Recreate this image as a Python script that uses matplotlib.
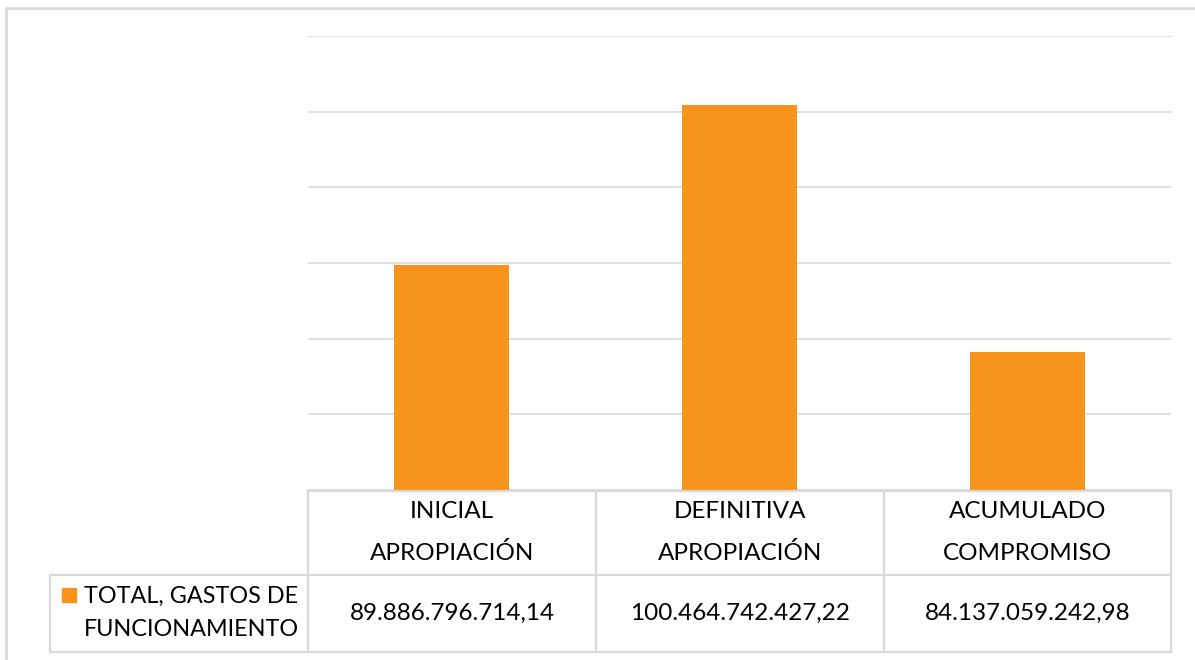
import matplotlib
matplotlib.use("Agg")
import matplotlib.pyplot as plt
from matplotlib.patches import Rectangle

categories = ["INICIAL\nAPROPIACIÓN", "DEFINITIVA\nAPROPIACIÓN", "ACUMULADO\nCOMPROMISO"]
values = [89886796714.14, 100464742427.22, 84137059242.98]
value_labels = ["89.886.796.714,14", "100.464.742.427,22", "84.137.059.242,98"]
series_name = "TOTAL, GASTOS DE\nFUNCIONAMIENTO"

W, H = 1195, 660
BAR = "#F7941D"
GRID = "#D9D9D9"
FONT = "Lato"
FS = 17.5
FS_LEG = 16.8

fig = plt.figure(figsize=(W / 100, H / 100), dpi=100)

# plot area in pixel coordinates
x0, x1, ytop, ybot = 308, 1171, 36, 490
ax = fig.add_axes([x0 / W, 1 - ybot / H, (x1 - x0) / W, (ybot - ytop) / H])
xs = list(range(len(values)))
ax.bar(xs, values, width=0.4, color=BAR, zorder=3)
ax.set_xlim(-0.5, len(values) - 0.5)
ax.set_ylim(75e9, 105e9)
ax.set_yticks([75e9 + i * 5e9 for i in range(7)])
ax.yaxis.grid(True, color=GRID, linewidth=1.2, zorder=0)
ax.set_xticks([])
ax.tick_params(left=False, labelleft=False)
for s in ax.spines.values():
    s.set_visible(False)

# overlay for table and frame (pixel coordinates)
ov = fig.add_axes([0, 0, 1, 1], zorder=5)
ov.set_xlim(0, W)
ov.set_ylim(H, 0)
ov.axis("off")
ov.patch.set_alpha(0)

# chart border (left and top visible)
ov.plot([6.5, 6.5, W + 5], [H + 5, 7.5, 7.5], color=GRID, lw=2)

# data table
cols = [308, 596, 884, 1171]
r0, r1, r2 = 490.5, 575, 651.5
lc = GRID
lw = 1.6
ov.plot([cols[0], cols[-1]], [r0, r0], color=lc, lw=lw)
ov.plot([50, cols[-1]], [r1, r1], color=lc, lw=lw)
ov.plot([50, cols[-1]], [r2, r2], color=lc, lw=lw)
ov.plot([50, 50], [r1, r2], color=lc, lw=lw)
for c in cols:
    ov.plot([c, c], [r0, r2], color=lc, lw=lw)

for i, (cat, lab) in enumerate(zip(categories, value_labels)):
    cx = (cols[i] + cols[i + 1]) / 2
    l1, l2 = cat.split("\n")
    ov.text(cx, 512, l1, ha="center", va="center", fontsize=FS, family=FONT)
    ov.text(cx, 553, l2, ha="center", va="center", fontsize=FS, family=FONT)
    ov.text(cx, 613, lab, ha="center", va="center", fontsize=FS, family=FONT)

ov.add_patch(Rectangle((62, 588), 14, 14, color=BAR))
n1, n2 = series_name.split("\n")
ov.text(84, 596, n1, ha="left", va="center", fontsize=FS_LEG, family=FONT)
ov.text(84, 630, n2, ha="left", va="center", fontsize=FS_LEG, family=FONT)

fig.savefig("out.png", dpi=100)
